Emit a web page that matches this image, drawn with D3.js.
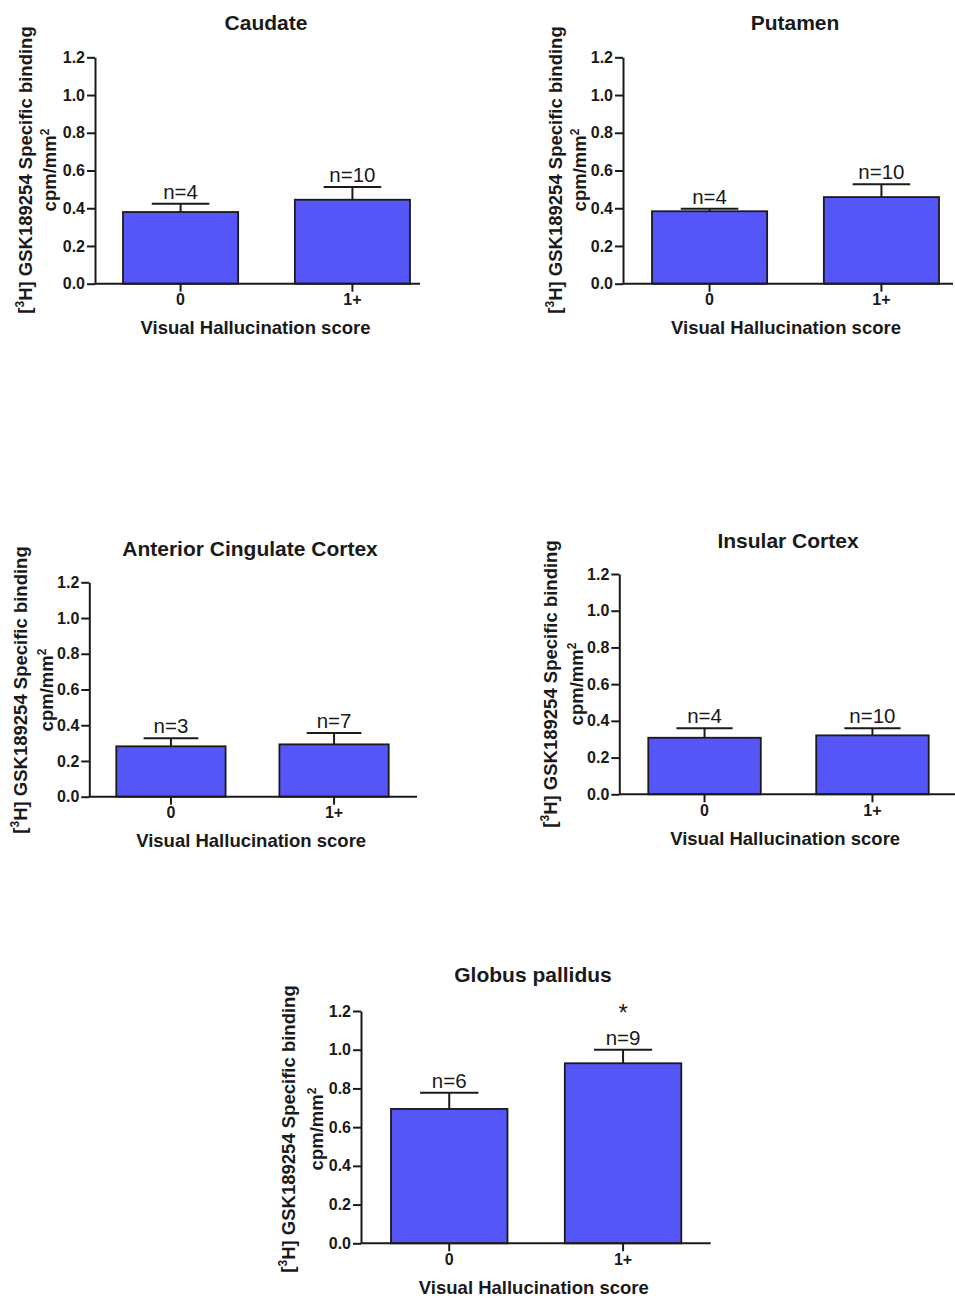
<!DOCTYPE html>
<html>
<head>
<meta charset="utf-8">
<script src="https://cdn.jsdelivr.net/npm/d3@7"></script>
<style>
  body { margin: 0; background: #fff; }
  svg { display: block; font-family: "Liberation Sans", Arial, sans-serif; }
</style>
</head>
<body>
<div id="chart"></div>
<script>
// data
const regions = ["Caudate", "Putamen", "Anterior Cingulate Cortex", "Insular Cortex", "Globus pallidus"];
const groups = ["0", "1+"];
const means = [[0.380, 0.445], [0.384, 0.459], [0.282, 0.293], [0.308, 0.321], [0.694, 0.930]];
const sems = [[0.044, 0.067], [0.013, 0.068], [0.045, 0.063], [0.052, 0.039], [0.084, 0.070]];
const nLabels = [["n=4", "n=10"], ["n=4", "n=10"], ["n=3", "n=7"], ["n=4", "n=10"], ["n=6", "n=9"]];
const stars = [["", ""], ["", ""], ["", ""], ["", ""], ["", "*"]];
const yTicks = [0, 0.2, 0.4, 0.6, 0.8, 1.0, 1.2];
const xTitle = "Visual Hallucination score";

// panel placement (pixels)
const panels = [
  {ax: 95, top: 57.3, bot: 283.7, end: 420, b0: 123, b1: 410, tx: 266, ty: 23, l1: 25, l2: 50, yc: 170},
  {ax: 623, top: 57.3, bot: 283.7, end: 953, b0: 652, b1: 939, tx: 795, ty: 23, l1: 555, l2: 580, yc: 170},
  {ax: 89.3, top: 582.3, bot: 796.7, end: 417, b0: 116.3, b1: 388.7, tx: 250, ty: 549, l1: 20, l2: 47, yc: 690},
  {ax: 619.3, top: 574, bot: 794.3, end: 955, b0: 648.3, b1: 928.7, tx: 788, ty: 541, l1: 550, l2: 577, yc: 684},
  {ax: 361, top: 1011, bot: 1243.3, end: 710.7, b0: 391, b1: 681.3, tx: 533, ty: 975, l1: 288, l2: 317, yc: 1129}
];

const barFill = "#5656f8";
const ink = "#1a1a1a";

const svg = d3.select("#chart").append("svg")
  .attr("width", 955)
  .attr("height", 1298);

svg.append("rect").attr("width", 955).attr("height", 1298).attr("fill", "#fff");

panels.forEach(function (p, i) {
  const g = svg.append("g");

  const y = d3.scaleLinear().domain(d3.extent(yTicks)).range([p.bot, p.top]);
  const x = d3.scaleBand().domain(groups).range([p.b0, p.b1]).paddingInner(0.33).paddingOuter(0);
  const bw = x.bandwidth();

  const rows = groups.map(function (k, j) {
    return {k: k, m: means[i][j], e: sems[i][j], n: nLabels[i][j], s: stars[i][j]};
  });

  // error bars (upper only, drawn behind the bar)
  const eg = g.append("g").attr("stroke", ink).attr("stroke-width", 2);
  rows.forEach(function (d) {
    const cx = x(d.k) + bw / 2;
    eg.append("line").attr("x1", cx).attr("x2", cx).attr("y1", y(d.m)).attr("y2", y(d.m + d.e));
    eg.append("line").attr("x1", cx - bw / 4).attr("x2", cx + bw / 4)
      .attr("y1", y(d.m + d.e)).attr("y2", y(d.m + d.e));
  });

  // bars
  g.selectAll("rect.bar").data(rows).enter().append("rect")
    .attr("class", "bar")
    .attr("x", d => x(d.k))
    .attr("width", bw)
    .attr("y", d => y(d.m))
    .attr("height", d => y(0) - y(d.m))
    .attr("fill", barFill)
    .attr("stroke", ink)
    .attr("stroke-width", 1.8);

  // n labels and significance star
  g.selectAll("text.n").data(rows).enter().append("text")
    .attr("class", "n")
    .attr("x", d => x(d.k) + bw / 2)
    .attr("y", d => y(d.m + d.e) - 5)
    .attr("text-anchor", "middle")
    .attr("font-size", 20.5)
    .attr("fill", ink)
    .text(d => d.n);

  g.selectAll("text.star").data(rows.filter(d => d.s)).enter().append("text")
    .attr("class", "star")
    .attr("x", d => x(d.k) + bw / 2)
    .attr("y", d => y(d.m + d.e) - 29)
    .attr("text-anchor", "middle")
    .attr("font-size", 24)
    .attr("fill", ink)
    .text(d => d.s);

  // axes
  const yAxis = g.append("g")
    .attr("transform", "translate(" + p.ax + ",0)")
    .call(d3.axisLeft(y).tickValues(yTicks).tickFormat(d3.format(".1f"))
      .tickSize(8).tickSizeOuter(0).tickPadding(2));

  const xAxis = g.append("g")
    .attr("transform", "translate(0," + p.bot + ")")
    .call(d3.axisBottom(x).tickSize(8).tickSizeOuter(0).tickPadding(2));
  xAxis.select(".domain").attr("d", "M" + p.ax + ",0H" + p.end);

  [yAxis, xAxis].forEach(function (a) {
    a.selectAll(".domain, .tick line").attr("stroke", ink).attr("stroke-width", 2);
    a.selectAll(".tick text").attr("fill", ink).attr("font-size", 16).attr("font-weight", "bold")
      .attr("font-family", "'Liberation Sans', Arial, sans-serif");
  });

  // titles
  g.append("text")
    .attr("x", p.tx).attr("y", p.ty).attr("dy", "0.35em")
    .attr("text-anchor", "middle")
    .attr("font-size", 21).attr("font-weight", "bold").attr("fill", ink)
    .text(regions[i]);

  g.append("text")
    .attr("x", (p.ax + p.end) / 2 - 2).attr("y", p.bot + 44).attr("dy", "0.35em")
    .attr("text-anchor", "middle")
    .attr("font-size", 18.5).attr("font-weight", "bold").attr("fill", ink)
    .text(xTitle);

  const t1 = g.append("text")
    .attr("transform", "translate(" + p.l1 + "," + p.yc + ") rotate(-90)")
    .attr("dy", "0.35em")
    .attr("text-anchor", "middle")
    .attr("font-size", 18.5).attr("font-weight", "bold").attr("fill", ink);
  t1.append("tspan").text("[");
  t1.append("tspan").attr("font-size", 12).attr("dy", "-0.6em").text("3");
  t1.append("tspan").attr("dy", "0.4em").text("H] GSK189254 Specific binding");

  const t2 = g.append("text")
    .attr("transform", "translate(" + p.l2 + "," + p.yc + ") rotate(-90)")
    .attr("dy", "0.35em")
    .attr("text-anchor", "middle")
    .attr("font-size", 18.5).attr("font-weight", "bold").attr("fill", ink);
  t2.append("tspan").text("cpm/mm");
  t2.append("tspan").attr("font-size", 12).attr("dy", "-0.6em").text("2");
});
</script>
</body>
</html>
